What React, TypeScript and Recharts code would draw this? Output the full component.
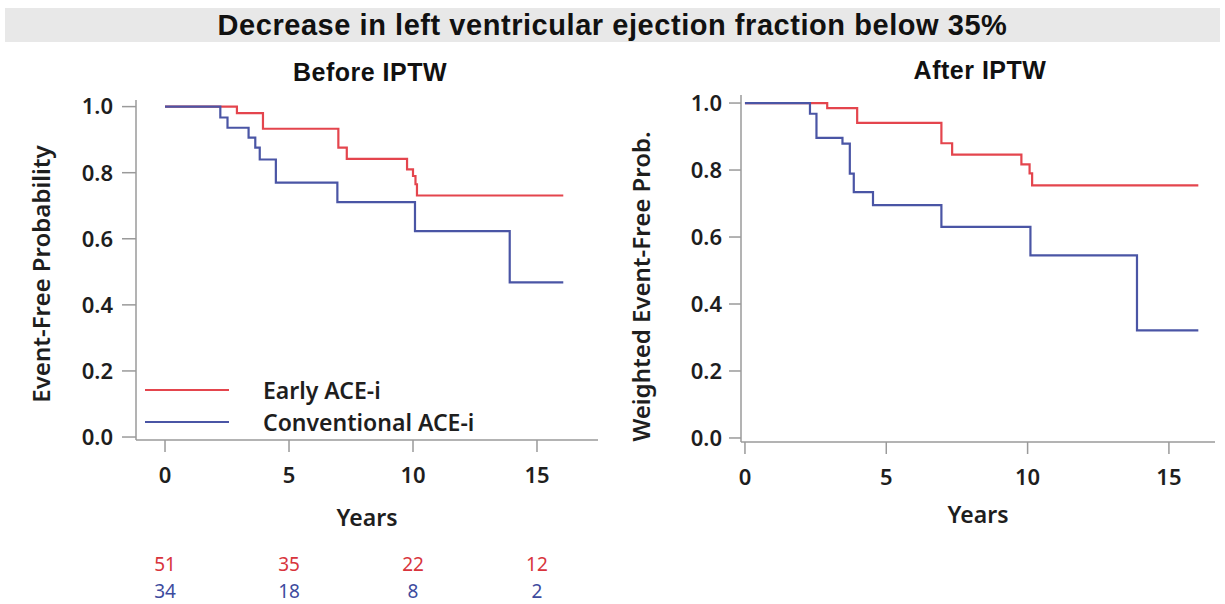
import { Line, LineChart, XAxis, YAxis } from "recharts";

// Kaplan-Meier style step curves
const years = [0, 5, 10, 15];
const probTicks = [0, 0.2, 0.4, 0.6, 0.8, 1.0];

const earlyAtRisk = [51, 35, 22, 12];
const convAtRisk = [34, 18, 8, 2];

const beforeEarlyT = [0, 2.9, 3.95, 6.99, 7.33, 9.76, 10.0, 10.1, 10.16, 16.06];
const beforeEarlyS = [1.0, 0.98, 0.933, 0.876, 0.842, 0.81, 0.79, 0.765, 0.731, 0.731];
const beforeConvT = [0, 2.23, 2.52, 3.37, 3.64, 3.82, 4.47, 6.95, 10.08, 13.9, 16.06];
const beforeConvS = [1.0, 0.967, 0.936, 0.906, 0.876, 0.84, 0.77, 0.711, 0.623, 0.468, 0.468];

const afterEarlyT = [0, 2.91, 3.97, 6.95, 7.33, 9.78, 10.07, 10.16, 16.04];
const afterEarlyS = [1.0, 0.985, 0.941, 0.88, 0.846, 0.817, 0.79, 0.754, 0.754];
const afterConvT = [0, 2.3, 2.53, 3.45, 3.71, 3.85, 4.53, 6.95, 10.1, 13.87, 16.04];
const afterConvS = [1.0, 0.968, 0.896, 0.879, 0.789, 0.734, 0.695, 0.63, 0.545, 0.321, 0.321];

const RED = "#e4454d";
const BLUE = "#4a55a5";
const RED_TXT = "#d8343c";
const BLUE_TXT = "#3d4b9e";
const AXIS = "#9a9a9a";
const INK = "#1e1e1e";
const SANS = "'Noto Sans', 'DejaVu Sans', sans-serif";
const ARIAL = "'Liberation Sans', Arial, sans-serif";

const steps = (t: number[], s: number[]) => t.map((x, i) => ({ t: x, s: s[i] }));

function riskTick(values: number[], color: string, dy: number) {
  return (props: any) => {
    const i = years.indexOf(props.payload.value);
    return (
      <text x={props.x} y={props.y + dy} textAnchor="middle" fill={color} fontSize={19} fontFamily={SANS}>
        {values[i]}
      </text>
    );
  };
}

function yLabel(text: string, dx: number, dy: number) {
  return (props: any) => {
    const vb = props.viewBox;
    const cx = vb.x + dx;
    const cy = vb.y + vb.height / 2 + dy;
    return (
      <text
        x={cx}
        y={cy}
        transform={`rotate(-90, ${cx}, ${cy})`}
        textAnchor="middle"
        dominantBaseline="central"
        fontSize={24}
        fontWeight={600}
        fontFamily={SANS}
        fill={INK}
      >
        {text}
      </text>
    );
  };
}

interface PanelProps {
  width: number;
  height: number;
  margin: { top: number; right: number; bottom: number; left: number };
  yAxisWidth: number;
  xDomain: [number, number];
  yDomain: [number, number];
  xAxisHeight: number;
  yTickSize: number;
  yTickMargin: number;
  yearsOffset: number;
  yTitle: string;
  yTitleX: number;
  yTitleDy: number;
  early: { t: number; s: number }[];
  conv: { t: number; s: number }[];
  withRisk: boolean;
}

function Panel(p: PanelProps) {
  const tickStyle = { fontSize: 22, fontWeight: 600, fill: INK, fontFamily: SANS };
  return (
    <LineChart width={p.width} height={p.height} margin={p.margin}>
      <XAxis
        dataKey="t"
        type="number"
        domain={p.xDomain}
        ticks={years}
        allowDataOverflow
        stroke={AXIS}
        strokeWidth={1.5}
        tickSize={12}
        tickMargin={15}
        tick={tickStyle}
        height={p.xAxisHeight}
        label={{
          value: "Years",
          position: "insideBottom",
          offset: p.yearsOffset,
          style: { fontSize: 23, fontWeight: 600, fill: INK, fontFamily: SANS },
        }}
      />
      {p.withRisk && (
        <XAxis
          xAxisId="risk1"
          dataKey="t"
          type="number"
          domain={p.xDomain}
          ticks={years}
          allowDataOverflow
          axisLine={false}
          tickLine={false}
          height={30}
          tick={riskTick(earlyAtRisk, RED_TXT, 28)}
        />
      )}
      {p.withRisk && (
        <XAxis
          xAxisId="risk2"
          dataKey="t"
          type="number"
          domain={p.xDomain}
          ticks={years}
          allowDataOverflow
          axisLine={false}
          tickLine={false}
          height={24}
          tick={riskTick(convAtRisk, BLUE_TXT, 25)}
        />
      )}
      <YAxis
        type="number"
        domain={p.yDomain}
        ticks={probTicks}
        allowDataOverflow
        width={p.yAxisWidth}
        stroke={AXIS}
        strokeWidth={1.5}
        tickSize={p.yTickSize}
        tickMargin={p.yTickMargin}
        tick={tickStyle}
        tickFormatter={(v: number) => v.toFixed(1)}
        label={{ content: yLabel(p.yTitle, p.yTitleX, p.yTitleDy) }}
      />
      <Line
        data={p.early}
        dataKey="s"
        type="stepAfter"
        stroke={RED}
        strokeWidth={2.2}
        dot={false}
        isAnimationActive={false}
      />
      <Line
        data={p.conv}
        dataKey="s"
        type="stepAfter"
        stroke={BLUE}
        strokeWidth={2.2}
        dot={false}
        isAnimationActive={false}
      />
    </LineChart>
  );
}

function LegendRow({ color, label }: { color: string; label: string }) {
  return (
    <div style={{ display: "flex", alignItems: "center", height: 32 }}>
      <svg width={84} height={6} style={{ marginRight: 34 }}>
        <line x1={0} y1={3} x2={84} y2={3} stroke={color} strokeWidth={2.2} />
      </svg>
      <span style={{ fontSize: 23, fontWeight: 600, fontFamily: SANS, color: INK }}>{label}</span>
    </div>
  );
}

const subTitle = {
  position: "absolute" as const,
  width: 300,
  textAlign: "center" as const,
  fontFamily: ARIAL,
  fontWeight: 700,
  fontSize: 25,
  letterSpacing: 0.5,
  color: "#111",
  lineHeight: "30px",
};

export default function App() {
  return (
    <div style={{ position: "absolute", left: 0, top: 0, width: 1225, height: 604, background: "#fff", overflow: "hidden" }}>
      <div
        style={{
          position: "absolute",
          left: 5,
          top: 8,
          width: 1215,
          height: 34,
          background: "#e8e8e8",
          display: "flex",
          alignItems: "center",
          justifyContent: "center",
          fontFamily: ARIAL,
          fontWeight: 700,
          fontSize: 29,
          letterSpacing: 0.55,
          color: "#111",
        }}
      >
        Decrease in left ventricular ejection fraction below 35%
      </div>
      <div style={{ ...subTitle, left: 220, top: 57 }}>Before IPTW</div>
      <div style={{ ...subTitle, left: 830, top: 55 }}>After IPTW</div>

      <div style={{ position: "absolute", left: 0, top: 0 }}>
        <Panel
          width={620}
          height={604}
          margin={{ top: 100, right: 22, bottom: 15, left: 0 }}
          yAxisWidth={136}
          xDomain={[-1.17, 17.46]}
          yDomain={[-0.009, 1.02]}
          xAxisHeight={95}
          yTickSize={14}
          yTickMargin={9}
          yearsOffset={9}
          yTitle="Event-Free Probability"
          yTitleX={40}
          yTitleDy={4}
          early={steps(beforeEarlyT, beforeEarlyS)}
          conv={steps(beforeConvT, beforeConvS)}
          withRisk
        />
      </div>

      <div style={{ position: "absolute", left: 600, top: 0 }}>
        <Panel
          width={625}
          height={604}
          margin={{ top: 95, right: 10, bottom: 67, left: 0 }}
          yAxisWidth={141}
          xDomain={[-0.14, 16.63]}
          yDomain={[-0.012, 1.024]}
          xAxisHeight={95}
          yTickSize={12}
          yTickMargin={7}
          yearsOffset={14}
          yTitle="Weighted Event-Free Prob."
          yTitleX={40}
          yTitleDy={18}
          early={steps(afterEarlyT, afterEarlyS)}
          conv={steps(afterConvT, afterConvS)}
          withRisk={false}
        />
      </div>

      <div style={{ position: "absolute", left: 145, top: 374 }}>
        <LegendRow color={RED} label="Early ACE-i" />
        <LegendRow color={BLUE} label="Conventional ACE-i" />
      </div>
    </div>
  );
}
